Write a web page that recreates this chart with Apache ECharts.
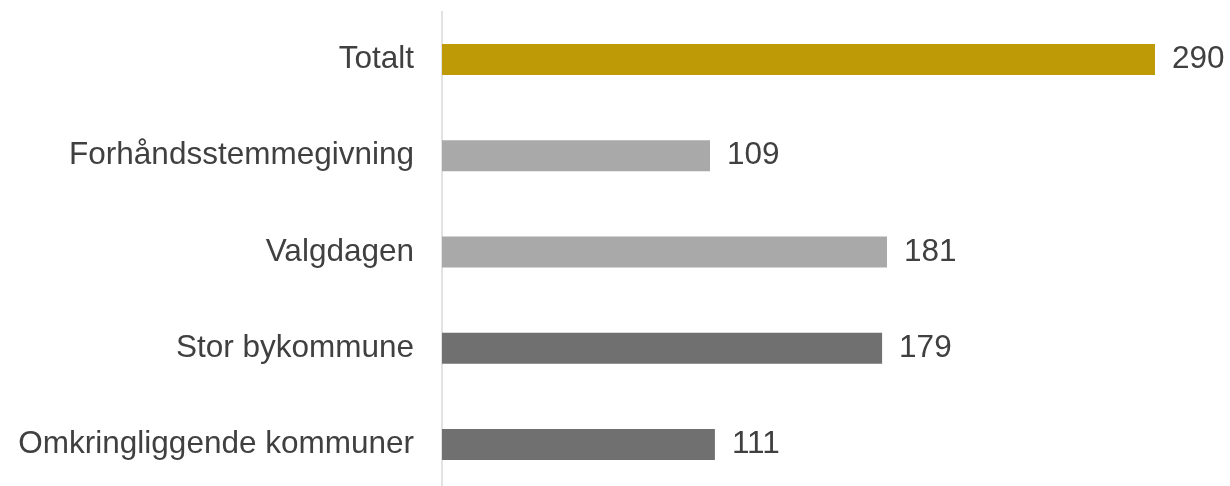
<!DOCTYPE html>
<html>
<head>
<meta charset="utf-8">
<script src="https://cdn.jsdelivr.net/npm/echarts@6/dist/echarts.min.js"></script>
<style>
html,body{margin:0;padding:0;background:#fff;overflow:hidden;}
#c{width:1230px;height:500px;}
</style>
</head>
<body>
<div id="c"></div>
<script>
const categories = ["Totalt", "Forhåndsstemmegivning", "Valgdagen", "Stor bykommune", "Omkringliggende kommuner"];
const values = [290, 109, 181, 179, 111];
const barColors = ["#BD9A06", "#A9A9A9", "#A9A9A9", "#707070", "#707070"];

const chart = echarts.init(document.getElementById('c'), null, {renderer: 'canvas'});
chart.setOption({
  animation: false,
  backgroundColor: '#ffffff',
  textStyle: {fontFamily: 'Liberation Sans, Arial, sans-serif'},
  grid: {left: 442, right: 75, top: 11.4, height: 481.2},
  xAxis: {type: 'value', min: 0, max: 290, show: false, splitLine: {show: false}},
  yAxis: {
    type: 'category', data: categories, inverse: true,
    axisLine: {show: true, lineStyle: {color: '#D9D9D9', width: 1.5}},
    axisTick: {show: false},
    axisLabel: {fontSize: 31.5, color: '#404040', margin: 28, fontFamily: 'Liberation Sans'}
  },
  series: [{
    type: 'bar',
    barWidth: 31,
    data: values.map((v, i) => ({value: v, itemStyle: {color: barColors[i]}})),
    label: {show: true, position: 'right', distance: 17, fontSize: 31.5, color: '#404040', fontFamily: 'Liberation Sans'}
  }]
});
</script>
</body>
</html>
